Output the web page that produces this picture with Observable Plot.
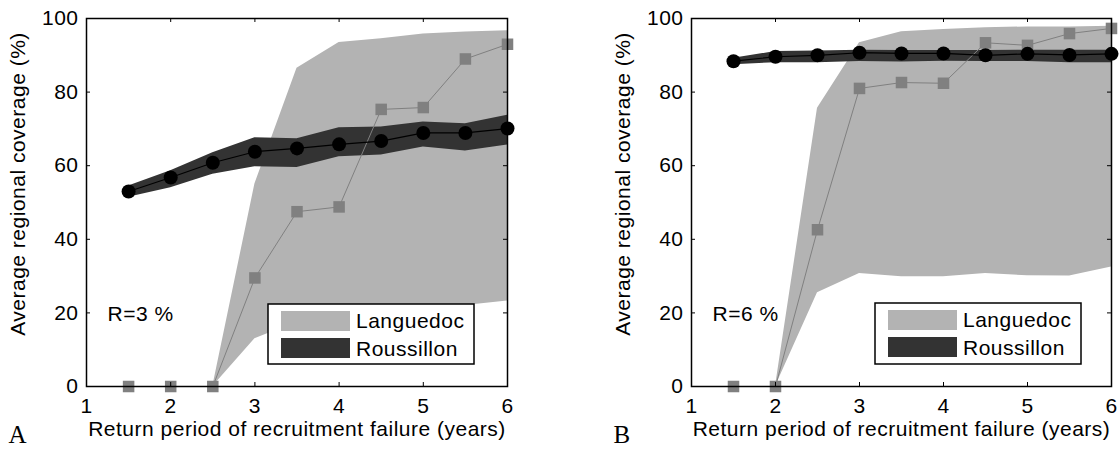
<!DOCTYPE html>
<html>
<head>
<meta charset="utf-8">
<script src="https://cdn.jsdelivr.net/npm/d3@7"></script>
<script src="https://cdn.jsdelivr.net/npm/@observablehq/plot@0.6"></script>
<style>
  body { margin: 0; background: #fff; }
  #fig { position: relative; width: 1120px; height: 449px; overflow: hidden; }
  .panel { position: absolute; top: 0; }
  #fig svg text { letter-spacing: 0.5px; }
  #overlay { position: absolute; left: 0; top: 0; pointer-events: none; }
</style>
</head>
<body>
<div id="fig"></div>
<script>
// ---- data ----
const returnPeriod = [1.5, 2, 2.5, 3, 3.5, 4, 4.5, 5, 5.5, 6];
const xTicks = [1, 2, 3, 4, 5, 6];
const yTicks = [0, 20, 40, 60, 80, 100];
const xLabel = "Return period of recruitment failure (years)";
const yLabel = "Average regional coverage (%)";
const panelLetters = ["A", "B"];
const rLabels = ["R=3 %", "R=6 %"];
const seriesNames = ["Languedoc", "Roussillon"];

// Panel A (R = 3 %)
const langA     = [0, 0, 0, 29.5, 47.5, 48.8, 75.3, 75.8, 89.0, 93.0];
const langALow  = [0, 0, 0, 13.0, 17.5, 19.5, 20.5, 21.3, 22.0, 23.2];
const langAHigh = [0, 0, 0, 55.0, 86.5, 93.5, 94.5, 95.8, 96.3, 96.7];
const rousA     = [53.0, 56.8, 60.8, 63.8, 64.7, 65.8, 66.7, 68.9, 68.9, 70.1];
const rousALow  = [51.4, 54.0, 57.7, 59.7, 59.5, 62.4, 62.9, 65.1, 64.0, 65.6];
const rousAHigh = [54.5, 58.6, 63.5, 67.6, 67.3, 70.3, 70.5, 71.9, 71.4, 73.7];

// Panel B (R = 6 %)
const langB     = [0, 0, 42.6, 81.0, 82.6, 82.4, 93.4, 92.7, 95.9, 97.3];
const langBLow  = [0, 0, 25.5, 30.7, 29.8, 29.8, 30.7, 30.1, 30.0, 32.5];
const langBHigh = [0, 0, 75.6, 93.4, 96.4, 97.0, 97.5, 97.7, 97.7, 97.9];
const rousB     = [88.4, 89.6, 90.0, 90.7, 90.5, 90.5, 90.0, 90.4, 90.1, 90.4];
const rousBLow  = [87.4, 88.0, 88.0, 88.3, 88.2, 88.4, 88.3, 88.3, 88.0, 88.0];
const rousBHigh = [89.2, 91.0, 91.2, 91.4, 91.3, 91.3, 91.3, 91.4, 91.4, 91.4];

// ---- styles ----
const LANG_BAND = "#b3b3b3";
const ROUS_BAND = "#333333";
const LANG_MARK = "#808080";
const ROUS_MARK = "#000000";
const SANS = "Liberation Sans, Arial, Helvetica, sans-serif";
const SERIF = "Liberation Serif, Times New Roman, serif";
const FS = 21;

const W = 560, H = 449, MT = 18, MB = 63, TICK = 4;

const panels = [
  { left: 0, marginLeft: 86, marginRight: 53,
    lang: langA, langLow: langALow, langHigh: langAHigh,
    rous: rousA, rousLow: rousALow, rousHigh: rousAHigh,
    rLabel: rLabels[0], letter: panelLetters[0],
    legend: { x0: 268, x1: 474, y0: 304, y1: 364 } },
  { left: 560, marginLeft: 131, marginRight: 9,
    lang: langB, langLow: langBLow, langHigh: langBHigh,
    rous: rousB, rousLow: rousBLow, rousHigh: rousBHigh,
    rLabel: rLabels[1], letter: panelLetters[1],
    legend: { x0: 875, x1: 1081, y0: 303, y1: 364 } }
];

const fig = document.getElementById("fig");

for (const p of panels) {
  const rows = returnPeriod.map((x, i) => ({
    x,
    lang: p.lang[i], langLow: p.langLow[i], langHigh: p.langHigh[i],
    rous: p.rous[i], rousLow: p.rousLow[i], rousHigh: p.rousHigh[i]
  }));
  const innerW = W - p.marginLeft - p.marginRight;
  const innerH = H - MT - MB;
  const chart = Plot.plot({
    width: W, height: H,
    marginLeft: p.marginLeft, marginRight: p.marginRight,
    marginTop: MT, marginBottom: MB,
    x: { domain: [1, 6], label: null },
    y: { domain: [0, 100], label: null },
    style: { fontFamily: SANS, fontSize: FS + "px", color: "#000", background: "transparent", overflow: "visible" },
    marks: [
      Plot.areaY(rows, { x: "x", y1: "langLow", y2: "langHigh", fill: LANG_BAND }),
      Plot.areaY(rows, { x: "x", y1: "rousLow", y2: "rousHigh", fill: ROUS_BAND }),
      Plot.lineY(rows, { x: "x", y: "lang", stroke: LANG_MARK, strokeWidth: 1 }),
      Plot.dot(rows, { x: "x", y: "lang", symbol: "square", r: 6.5, fill: LANG_MARK, stroke: "none" }),
      Plot.lineY(rows, { x: "x", y: "rous", stroke: ROUS_MARK, strokeWidth: 1.2 }),
      Plot.dot(rows, { x: "x", y: "rous", r: 7, fill: ROUS_MARK, stroke: "none" }),
      // inward ticks on all four sides
      Plot.ruleX(xTicks, { insetTop: innerH - TICK, stroke: "#000" }),
      Plot.ruleX(xTicks, { insetBottom: innerH - TICK, stroke: "#000" }),
      Plot.ruleY(yTicks, { insetRight: innerW - TICK, stroke: "#000" }),
      Plot.ruleY(yTicks, { insetLeft: innerW - TICK, stroke: "#000" }),
      Plot.frame({ stroke: "#000", strokeWidth: 1.5 }),
      Plot.axisX(xTicks, { tickSize: 0, tickPadding: 12, label: null, fontSize: FS, tickFormat: d => String(d) }),
      Plot.axisY(yTicks, { tickSize: 0, tickPadding: 8, label: null, fontSize: FS, tickFormat: d => String(d) }),
      Plot.text([xLabel], { frameAnchor: "bottom", dy: 49, textAnchor: "middle", lineAnchor: "bottom", fontSize: FS, fill: "#000" }),
      Plot.text([yLabel], { frameAnchor: "left", rotate: -90, dx: -62, dy: -18.5, textAnchor: "middle", lineAnchor: "bottom", fontSize: FS, fill: "#000" }),
      Plot.text([p.rLabel], { frameAnchor: "bottom-left", dx: 21, dy: -66, textAnchor: "start", lineAnchor: "bottom", fontSize: FS, fill: "#000" }),
      Plot.text([p.letter], { frameAnchor: "bottom-left", dx: -78, dy: 56, textAnchor: "start", lineAnchor: "bottom",
                              fontFamily: SERIF, fontSize: 25, fill: "#000" })
    ]
  });
  chart.classList.add("panel");
  chart.style.left = p.left + "px";
  fig.appendChild(chart);
}

// ---- legends (overlay) ----
const overlay = d3.select(fig).append("svg")
  .attr("id", "overlay").attr("width", 1120).attr("height", 449);
const swatchFills = [LANG_BAND, ROUS_BAND];
for (const p of panels) {
  const L = p.legend;
  const g = overlay.append("g");
  g.append("rect")
    .attr("x", L.x0).attr("y", L.y0)
    .attr("width", L.x1 - L.x0).attr("height", L.y1 - L.y0)
    .attr("fill", "#fff").attr("stroke", "#000").attr("stroke-width", 1.5);
  seriesNames.forEach((name, i) => {
    g.append("rect")
      .attr("x", L.x0 + 13).attr("y", L.y0 + 7 + i * 27)
      .attr("width", 69).attr("height", 20)
      .attr("fill", swatchFills[i]);
    g.append("text")
      .attr("x", L.x0 + 88).attr("y", L.y0 + 24 + i * 27.5)
      .attr("font-family", SANS).attr("font-size", FS)
      .attr("fill", "#000")
      .text(name);
  });
}
</script>
</body>
</html>
